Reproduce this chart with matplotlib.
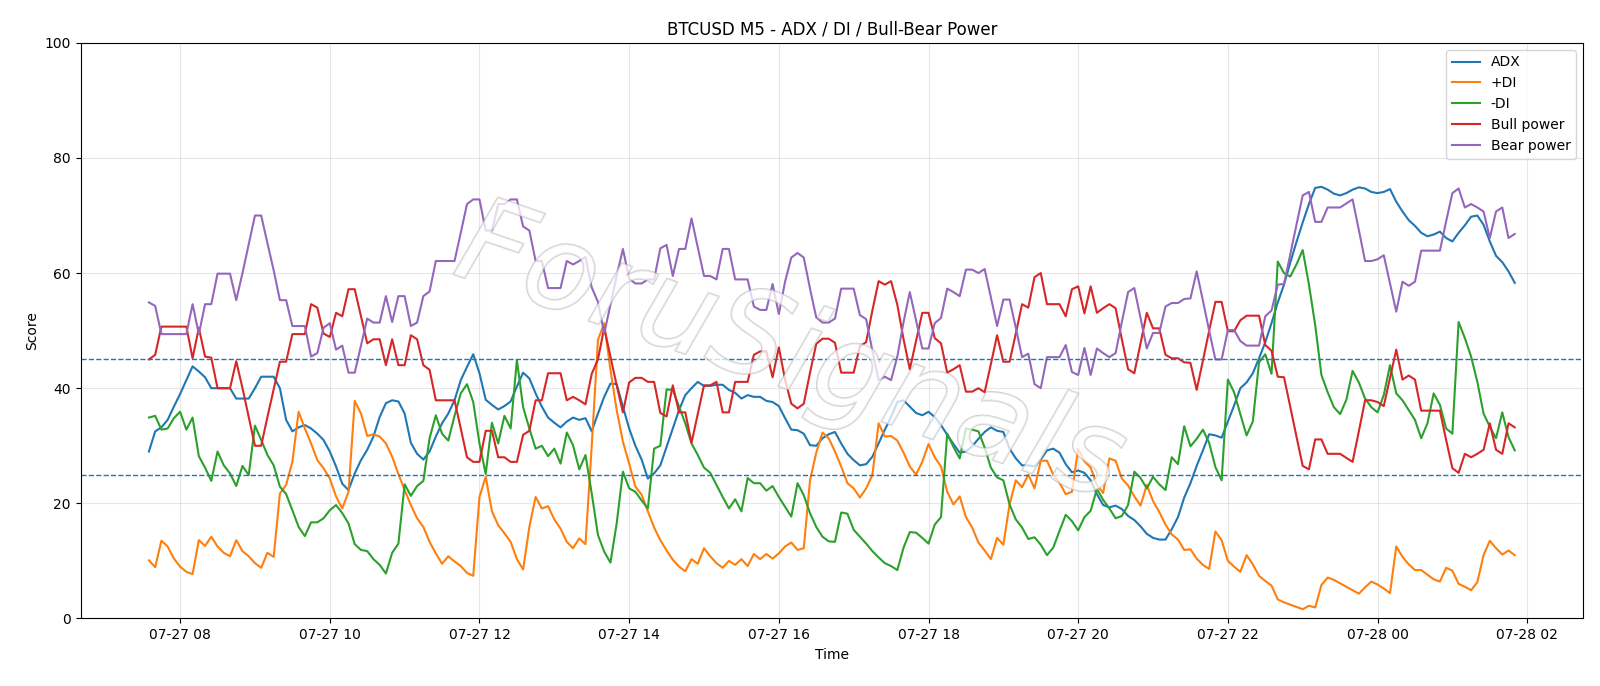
import matplotlib
matplotlib.use("Agg")
import matplotlib.pyplot as plt
import matplotlib.dates as mdates
import matplotlib.patheffects as pe
import pandas as pd

start_time = "2025-07-27 07:35"
n_points = 220

adx = [
    29.0, 32.5, 33.2, 34.5, 36.8, 39.0, 41.4, 43.8, 42.9, 41.9, 40.0, 40.0, 40.0, 40.0, 38.2, 38.2, 38.2, 40.0, 42.0, 42.0,
    42.0, 40.0, 34.5, 32.5, 33.2, 33.6, 33.0, 32.1, 31.0, 29.0, 26.4, 23.4, 22.3, 25.2, 27.5, 29.3, 31.6, 35.0, 37.4,
    37.9, 37.7, 35.6, 30.5, 28.6, 27.6, 29.0, 31.6, 33.9, 35.6, 37.9, 41.4, 43.7, 45.9, 42.6, 38.0, 37.1, 36.3, 36.9, 37.7,
    40.3, 42.7, 41.7, 39.1, 36.8, 34.9, 34.0, 33.2, 34.2, 34.9, 34.5, 34.8, 32.5, 35.6, 38.5, 40.8, 40.7, 36.8, 33.0, 30.0,
    27.6, 24.3, 25.2, 26.6, 29.8, 33.0, 36.2, 38.8, 40.0, 41.1, 40.4, 40.4, 40.6, 40.6, 39.7, 39.2, 38.2, 38.8, 38.5, 38.5,
    37.8, 37.6, 36.9, 34.8, 32.8, 32.7, 32.1, 30.1, 30.0, 31.3, 32.0, 32.4, 30.4, 28.6, 27.5, 26.6, 26.8, 28.1, 30.4,
    32.8, 35.0, 37.6, 37.9, 36.8, 35.7, 35.3, 35.9, 35.0, 33.6, 31.9, 30.3, 28.8, 29.0, 29.9, 31.2, 32.4, 33.2, 32.6, 32.4,
    29.5, 27.8, 26.6, 26.6, 26.4, 27.6, 29.2, 29.5, 28.8, 26.8, 25.4, 25.7, 25.3, 24.0, 21.6, 19.7, 19.3, 19.6, 19.0, 17.8,
    17.1, 16.0, 14.7, 14.0, 13.7, 13.7, 15.5, 17.6, 21.0, 23.5, 26.5, 29.2, 32.0, 31.8, 31.4, 34.2, 37.0, 40.0, 41.0, 42.6,
    45.2, 48.0, 51.3, 54.9, 58.0, 61.8, 65.4, 68.8, 72.0, 74.8, 75.0, 74.5, 73.8, 73.5, 73.9, 74.5, 74.9, 74.7, 74.1,
    73.9, 74.1, 74.6, 72.4, 70.7, 69.2, 68.2, 67.0, 66.4, 66.7, 67.2, 66.1, 65.5, 67.0, 68.3, 69.8, 70.0, 68.4, 65.5, 63.0,
    61.9, 60.3, 58.3,
]

plus_di = [
    10.1, 8.9, 13.5, 12.5, 10.4, 9.0, 8.1, 7.7, 13.6, 12.6, 14.2, 12.5, 11.4, 10.8, 13.6, 11.7, 10.8, 9.6, 8.8, 11.4,
    10.7, 21.7, 23.2, 27.2, 35.9, 33.0, 30.4, 27.5, 26.1, 24.3, 21.2, 19.1, 22.0, 37.8, 35.6, 31.7, 32.0, 31.6, 30.4,
    28.1, 25.1, 22.3, 19.7, 17.4, 15.9, 13.3, 11.3, 9.5, 10.8, 9.9, 9.1, 7.9, 7.4, 21.1, 24.6, 18.6, 16.2, 14.8, 13.3,
    10.3, 8.5, 15.9, 21.1, 19.1, 19.5, 17.2, 15.6, 13.3, 12.2, 13.9, 12.9, 30.0, 48.4, 51.3, 43.2, 36.2, 30.7, 26.9, 22.9,
    21.5, 18.6, 15.8, 13.6, 11.8, 10.2, 9.0, 8.2, 10.3, 9.5, 12.2, 10.8, 9.6, 8.8, 10.0, 9.3, 10.3, 9.1, 11.2, 10.3,
    11.2, 10.4, 11.3, 12.5, 13.2, 11.9, 12.2, 24.0, 28.8, 32.3, 31.3, 29.0, 26.4, 23.5, 22.6, 21.0, 22.6, 24.9, 33.9,
    31.6, 31.7, 30.9, 28.8, 26.4, 25.0, 27.2, 30.3, 28.0, 26.4, 22.0, 19.8, 21.2, 17.6, 15.8, 13.2, 11.8, 10.3, 14.0, 12.8,
    19.8, 24.0, 22.8, 25.0, 22.6, 27.4, 27.4, 25.0, 23.6, 21.6, 22.0, 29.5, 27.3, 26.2, 23.2, 21.8, 27.8, 27.4, 24.3, 23.1,
    21.2, 19.6, 23.2, 20.4, 18.5, 16.3, 14.6, 13.7, 11.9, 12.0, 10.4, 9.3, 8.6, 15.1, 13.6, 10.0, 9.0, 8.1, 11.0, 9.4,
    7.4, 6.5, 5.7, 3.3, 2.8, 2.4, 2.0, 1.6, 2.2, 1.9, 5.8, 7.1, 6.7, 6.1, 5.5, 4.9, 4.3, 5.4, 6.4,
    5.9, 5.2, 4.4, 12.5, 10.7, 9.4, 8.4, 8.4, 7.6, 6.8, 6.4, 8.8, 8.3, 6.0, 5.5, 4.9, 6.3, 11.0, 13.5, 12.2,
    11.1, 11.8, 11.0,
]

minus_di = [
    34.9, 35.2, 32.8, 33.0, 34.8, 35.9, 32.8, 34.9, 28.2, 26.2, 23.9, 29.0, 26.6, 25.2, 23.0, 26.5, 24.9, 33.5, 31.0, 28.4,
    26.6, 22.9, 21.6, 18.8, 15.9, 14.3, 16.7, 16.7, 17.4, 18.8, 19.7, 18.3, 16.5, 12.9, 11.9, 11.7, 10.3, 9.3, 7.8,
    11.4, 13.0, 23.3, 21.3, 23.0, 23.9, 31.3, 35.3, 32.1, 30.9, 35.2, 39.1, 40.7, 37.6, 30.4, 25.1, 34.0, 30.4, 35.2, 33.0,
    44.9, 36.7, 33.0, 29.5, 30.0, 28.2, 29.5, 26.9, 32.3, 30.1, 25.9, 28.4, 21.7, 14.5, 11.6, 9.7, 16.5, 25.5, 22.6, 22.0,
    20.5, 19.1, 29.5, 30.0, 39.8, 39.7, 36.8, 33.9, 30.4, 28.4, 26.2, 25.3, 23.2, 21.1, 19.1, 20.7, 18.6, 24.4, 23.5, 23.5,
    22.2, 23.0, 21.1, 19.4, 17.7, 23.5, 21.4, 18.3, 15.9, 14.2, 13.4, 13.3, 18.4, 18.2, 15.4, 14.2, 13.0, 11.7, 10.6,
    9.6, 9.1, 8.4, 12.3, 15.0, 14.9, 14.0, 13.0, 16.3, 17.6, 32.1, 29.8, 27.8, 33.0, 32.8, 32.5, 29.7, 26.2, 24.5, 24.0,
    19.8, 17.2, 15.8, 13.8, 14.1, 12.8, 11.0, 12.3, 15.2, 18.0, 16.9, 15.3, 17.6, 18.7, 22.5, 20.6, 19.1, 17.4, 17.8, 19.7,
    25.5, 24.4, 22.6, 24.6, 23.3, 22.3, 28.0, 26.8, 33.4, 29.9, 31.2, 32.8, 30.5, 26.3, 24.0, 41.5, 39.3, 35.5, 31.8, 34.2,
    44.5, 45.9, 42.5, 62.0, 60.0, 59.4, 61.5, 64.0, 58.0, 51.0, 42.3, 39.3, 36.7, 35.5, 38.0, 43.0, 41.0, 38.2, 36.7,
    35.8, 38.8, 44.0, 39.1, 37.9, 36.2, 34.5, 31.3, 33.9, 39.1, 37.1, 33.0, 32.1, 51.5, 48.7, 45.5, 41.1, 35.6, 33.3, 31.3,
    35.8, 31.5, 29.2,
]

bull_power = [
    45.0, 45.8, 50.7, 50.7, 50.7, 50.7, 50.7, 45.2, 50.5, 45.5, 45.3, 40.0, 40.0, 40.0, 44.7, 40.0, 35.0, 30.0, 30.0, 35.0,
    39.8, 44.6, 44.6, 49.4, 49.4, 49.4, 54.6, 54.0, 49.5, 48.9, 53.1, 52.5, 57.2, 57.2, 52.5, 47.8, 48.5, 48.5, 44.0,
    48.5, 44.0, 44.0, 49.2, 48.5, 44.0, 43.2, 37.9, 37.9, 37.9, 37.9, 33.0, 28.0, 27.2, 27.2, 32.6, 32.6, 28.0, 28.0, 27.2,
    27.2, 31.9, 32.6, 37.9, 37.9, 42.6, 42.6, 42.6, 37.9, 38.5, 37.9, 37.2, 42.5, 45.0, 50.5, 45.5, 40.5, 35.8, 41.0, 41.8,
    41.8, 41.1, 41.1, 35.7, 35.1, 40.5, 35.8, 35.8, 30.5, 35.5, 40.5, 40.5, 41.1, 35.8, 35.8, 41.1, 41.1, 41.1, 45.8, 46.4,
    46.4, 41.9, 47.1, 41.5, 37.3, 36.5, 37.3, 42.7, 47.7, 48.6, 48.6, 47.9, 42.7, 42.7, 42.7, 47.3, 48.0, 53.5, 58.6,
    58.0, 58.6, 54.5, 48.5, 43.3, 48.2, 53.1, 53.1, 48.7, 47.8, 42.7, 43.3, 44.0, 39.4, 39.4, 40.0, 39.3, 44.2, 49.2, 44.6,
    44.6, 49.5, 54.6, 54.0, 59.3, 60.0, 54.6, 54.6, 54.6, 52.5, 57.2, 57.7, 53.0, 57.7, 53.1, 53.9, 54.6, 53.9, 48.5, 43.3,
    42.6, 47.8, 53.1, 50.4, 50.4, 45.8, 45.2, 45.2, 44.5, 44.4, 39.7, 44.8, 50.0, 55.0, 55.0, 49.9, 49.9, 51.8, 52.6, 52.6,
    52.6, 47.5, 46.5, 42.0, 41.9, 36.8, 31.6, 26.5, 25.9, 31.1, 31.1, 28.6, 28.6, 28.6, 27.9, 27.2, 32.5, 37.9, 37.9,
    37.6, 36.9, 41.8, 46.7, 41.5, 42.2, 41.5, 36.1, 36.1, 36.1, 36.1, 31.0, 26.1, 25.3, 28.6, 28.0, 28.6, 29.3, 33.9, 29.3,
    28.6, 33.9, 33.2,
]

bear_power = [
    54.9, 54.3, 49.4, 49.4, 49.4, 49.4, 49.4, 54.6, 49.4, 54.6, 54.6, 59.9, 59.9, 59.9, 55.3, 60.0, 65.0, 70.0, 70.0, 65.2,
    60.5, 55.3, 55.3, 50.8, 50.8, 50.8, 45.5, 46.1, 50.5, 51.3, 46.7, 47.4, 42.7, 42.7, 47.4, 52.1, 51.4, 51.4, 56.0,
    51.5, 56.0, 56.0, 50.8, 51.4, 56.0, 56.8, 62.1, 62.1, 62.1, 62.1, 67.0, 72.0, 72.8, 72.8, 67.4, 67.4, 72.0, 72.0, 72.8,
    72.8, 68.1, 67.4, 62.1, 62.1, 57.4, 57.4, 57.4, 62.1, 61.5, 62.1, 62.8, 57.5, 55.0, 49.5, 54.5, 59.5, 64.2, 59.0, 58.2,
    58.2, 58.9, 58.9, 64.3, 64.9, 59.5, 64.2, 64.2, 69.5, 64.5, 59.5, 59.5, 58.9, 64.2, 64.2, 58.9, 58.9, 58.9, 54.2, 53.6,
    53.6, 58.1, 52.9, 58.5, 62.7, 63.5, 62.7, 57.3, 52.3, 51.4, 51.4, 52.1, 57.3, 57.3, 57.3, 52.7, 52.0, 46.5, 41.4,
    42.0, 41.4, 45.5, 51.5, 56.7, 51.8, 46.9, 46.9, 51.3, 52.2, 57.3, 56.7, 56.0, 60.6, 60.6, 60.0, 60.7, 55.8, 50.8, 55.4,
    55.4, 50.5, 45.4, 46.0, 40.7, 40.0, 45.4, 45.4, 45.4, 47.5, 42.8, 42.3, 47.0, 42.3, 46.9, 46.1, 45.4, 46.1, 51.5, 56.7,
    57.4, 52.2, 46.9, 49.6, 49.6, 54.2, 54.8, 54.8, 55.5, 55.6, 60.3, 55.2, 50.0, 45.0, 45.0, 50.1, 50.1, 48.2, 47.4, 47.4,
    47.4, 52.5, 53.5, 58.0, 58.1, 63.2, 68.4, 73.5, 74.1, 68.9, 68.9, 71.4, 71.4, 71.4, 72.1, 72.8, 67.5, 62.1, 62.1,
    62.4, 63.1, 58.2, 53.3, 58.5, 57.8, 58.5, 63.9, 63.9, 63.9, 63.9, 69.0, 73.9, 74.7, 71.4, 72.0, 71.4, 70.7, 66.1, 70.7,
    71.4, 66.1, 66.8,
]

levels = [25, 45]

times = pd.date_range(start=start_time, periods=n_points, freq="5min")

fig = plt.figure(figsize=(16, 6.86), dpi=100)
ax = fig.add_axes([0.0504, 0.0985, 0.9390, 0.8390])

ax.plot(times, adx, label="ADX", lw=1.5)
ax.plot(times, plus_di, label="+DI", lw=1.5)
ax.plot(times, minus_di, label="-DI", lw=1.5)
ax.plot(times, bull_power, label="Bull power", lw=1.5)
ax.plot(times, bear_power, label="Bear power", lw=1.5)
for lv in levels:
    ax.axhline(lv, color="C0", ls="--", lw=1)

ax.set_ylim(0, 100)
ax.xaxis.set_major_locator(mdates.HourLocator(interval=2))
ax.xaxis.set_major_formatter(mdates.DateFormatter("%m-%d %H"))
ax.grid(True, alpha=0.3)
ax.set_title("BTCUSD M5 - ADX / DI / Bull-Bear Power", fontsize=12)
ax.set_xlabel("Time")
ax.set_ylabel("Score")
ax.legend(loc="upper right")

wm = fig.text(0.494, 0.482, "ForuSignals", fontsize=86, style="italic",
              color="white", alpha=0.5, rotation=-19,
              ha="center", va="center", zorder=10)
wm.set_path_effects([pe.withStroke(linewidth=1.4, foreground="#a8a8a8")])

fig.savefig("out.png", dpi=100)
